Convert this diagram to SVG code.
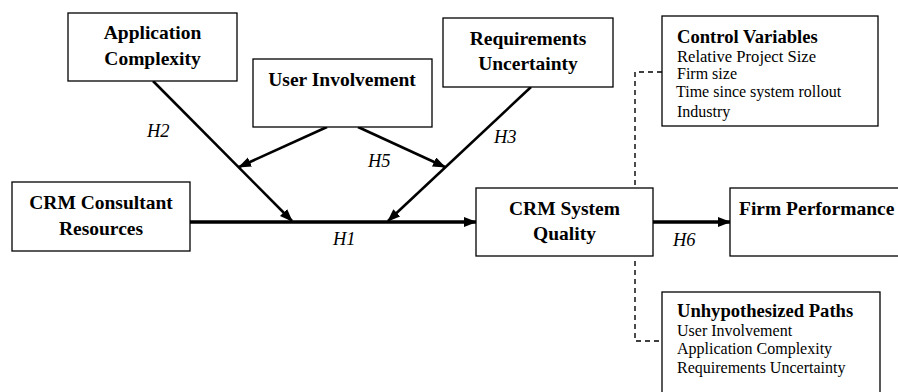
<svg xmlns="http://www.w3.org/2000/svg" width="898" height="392" viewBox="0 0 898 392">
<style>
.box{fill:#fff;stroke:#000;stroke-width:1.3}
.t{font-family:"Liberation Serif","Times New Roman",serif;font-weight:bold;font-size:19.5px;text-anchor:middle;fill:#000}
.tl{font-family:"Liberation Serif","Times New Roman",serif;font-weight:bold;font-size:18.6px;fill:#000}
.r{font-family:"Liberation Serif","Times New Roman",serif;font-size:16px;fill:#000}
.h{font-family:"Liberation Serif","Times New Roman",serif;font-style:italic;font-size:18.5px;fill:#000}
.a{stroke:#000;stroke-width:2.6;fill:none;marker-end:url(#ah)}
.m{stroke:#000;stroke-width:3.4;fill:none;marker-end:url(#ah)}
.d{stroke:#000;stroke-width:1.4;fill:none;stroke-dasharray:5,4}
</style>
<defs>
<marker id="ah" markerUnits="userSpaceOnUse" markerWidth="13" markerHeight="11" refX="12" refY="5" orient="auto">
<path d="M0,0 L13,5 L0,10 z" fill="#000"/>
</marker>
</defs>
<rect width="898" height="392" fill="#fff"/>
<g id="connectors">
<line class="m" x1="190" y1="222" x2="476" y2="222"/>
<line class="m" x1="653" y1="222" x2="730" y2="222"/>
<line class="a" x1="153" y1="81" x2="292" y2="221"/>
<line class="a" x1="531" y1="87" x2="388" y2="221"/>
<line class="a" x1="327" y1="127" x2="239" y2="167"/>
<line class="a" x1="358" y1="127" x2="445" y2="167"/>
<path class="d" d="M662,72 H635 V188"/>
<path class="d" d="M635,261 V341 H662"/>
<text class="h" x="147" y="137">H2</text>
<text class="h" x="368" y="167">H5</text>
<text class="h" x="494" y="143">H3</text>
<text class="h" x="333" y="245">H1</text>
<text class="h" x="673" y="246">H6</text>
</g>
<g id="app-complexity">
<rect class="box" x="68" y="13" width="169" height="68"/>
<text class="t" x="152.5" y="39">Application</text>
<text class="t" x="152.5" y="65">Complexity</text>
</g>
<g id="user-involvement">
<rect class="box" x="253" y="59" width="179" height="68"/>
<text class="t" x="342" y="86">User Involvement</text>
</g>
<g id="req-uncertainty">
<rect class="box" x="443" y="18" width="170" height="69"/>
<text class="t" x="528" y="45">Requirements</text>
<text class="t" x="528" y="70">Uncertainty</text>
</g>
<g id="control-variables">
<rect class="box" x="662" y="16" width="216" height="110"/>
<text class="tl" x="677" y="43">Control Variables</text>
<text class="r" x="677" y="62" textLength="139" lengthAdjust="spacingAndGlyphs">Relative Project Size</text>
<text class="r" x="677" y="79">Firm size</text>
<text class="r" x="676" y="97">Time since system rollout</text>
<text class="r" x="677" y="117">Industry</text>
</g>
<g id="crm-consultant">
<rect class="box" x="12" y="182" width="178" height="69"/>
<text class="t" x="101" y="209">CRM Consultant</text>
<text class="t" x="101" y="235">Resources</text>
</g>
<g id="crm-system-quality">
<rect class="box" x="476" y="188" width="177" height="68"/>
<text class="t" x="564.5" y="215">CRM System</text>
<text class="t" x="564.5" y="240">Quality</text>
</g>
<g id="firm-performance">
<rect class="box" x="730" y="188" width="180" height="68"/>
<text class="t" x="739" y="215" style="text-anchor:start">Firm Performance</text>
</g>
<g id="unhypothesized">
<rect class="box" x="662" y="292" width="218" height="110"/>
<text class="tl" x="677" y="317">Unhypothesized Paths</text>
<text class="r" x="677" y="336">User Involvement</text>
<text class="r" x="677" y="354">Application Complexity</text>
<text class="r" x="677" y="373">Requirements Uncertainty</text>
</g>
</svg>
